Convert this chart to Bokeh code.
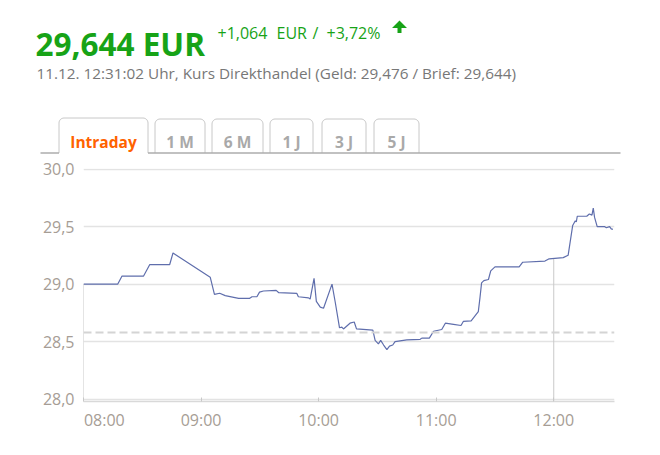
import numpy as np
from bokeh.plotting import figure
from bokeh.layouts import column
from bokeh.models import FixedTicker, Span, Range1d
from bokeh.core.properties import value
from bokeh.embed import file_html
from bokeh.resources import INLINE

# ---------------- data ----------------
times = ["08:00:00", "08:17:30", "08:19:40", "08:30:40", "08:33:50", "08:44:00", "08:45:40",
         "09:04:40", "09:06:50", "09:09:30", "09:12:20", "09:19:10", "09:24:40", "09:26:00",
         "09:28:30", "09:29:50", "09:31:50", "09:38:20", "09:39:40", "09:48:50", "09:49:40",
         "09:54:50", "09:55:40", "09:57:40", "09:58:50", "10:00:50", "10:02:30", "10:06:50",
         "10:08:30", "10:10:40", "10:11:50", "10:12:40", "10:16:00", "10:18:10", "10:19:20",
         "10:27:40", "10:28:50", "10:30:30", "10:31:40", "10:33:10", "10:34:50", "10:36:10",
         "10:37:50", "10:39:00", "10:45:00", "10:51:50", "10:52:40", "10:56:30", "10:58:40",
         "11:02:50", "11:04:40", "11:08:50", "11:12:40", "11:13:50", "11:17:50", "11:21:30",
         "11:22:20", "11:23:10", "11:24:20", "11:26:40", "11:27:50", "11:30:00", "11:42:20",
         "11:44:10", "11:55:30", "11:57:40", "12:04:50", "12:07:20", "12:09:40", "12:11:00",
         "12:11:30", "12:12:00", "12:16:50", "12:18:10", "12:19:30", "12:20:10", "12:20:50",
         "12:22:10", "12:25:50", "12:26:50", "12:28:30", "12:29:20", "12:30:10"]
values = [29.00, 29.00, 29.07, 29.07, 29.17, 29.17, 29.27,
          29.06, 28.91, 28.92, 28.90, 28.875, 28.875, 28.89,
          28.89, 28.93, 28.94, 28.945, 28.925, 28.92, 28.89,
          28.88, 28.87, 29.05, 28.85, 28.80, 28.79, 29.00,
          28.84, 28.62, 28.625, 28.61, 28.66, 28.67, 28.61,
          28.60, 28.51, 28.48, 28.51, 28.47, 28.43, 28.46,
          28.47, 28.50, 28.515, 28.52, 28.53, 28.53, 28.59,
          28.605, 28.66, 28.65, 28.64, 28.675, 28.68, 28.76,
          28.88, 29.01, 29.03, 29.04, 29.115, 29.15, 29.15,
          29.19, 29.20, 29.22, 29.23, 29.25, 29.51, 29.55,
          29.54, 29.59, 29.59, 29.61, 29.60, 29.66, 29.58,
          29.50, 29.50, 29.49, 29.50, 29.48, 29.476]
prev_close = 28.58
marker_times = ["08:00:00", "12:00:00"]
x_tick_times = ["08:00", "09:00", "10:00", "11:00", "12:00"]
x_tick_labels = ["08:00", "09:00", "10:00", "11:00", "12:00"]
y_ticks = [28.0, 28.5, 29.0, 29.5, 30.0]
y_tick_labels = ["28,0", "28,5", "29,0", "29,5", "30,0"]
tab_labels = ["Intraday", "1 M", "6 M", "1 J", "3 J", "5 J"]

price_text = "29,644 EUR"
change_parts = ["+1,064", "EUR", "/", "+3,72%"]
subtitle = "11.12. 12:31:02 Uhr, Kurs Direkthandel (Geld: 29,476 / Brief: 29,644)"


def to_hours(t):
    parts = [int(v) for v in t.split(":")]
    while len(parts) < 3:
        parts.append(0)
    return parts[0] + parts[1] / 60 + parts[2] / 3600


xh = np.array([to_hours(t) for t in times])
yv = np.array(values)
tick_h = [to_hours(t) for t in x_tick_times]

GREEN = "#17a317"
AXIS_TXT = "#a69d95"
FONT = "Open Sans"
W = 644
HEAD_H = 156
TOTAL_H = 439

# ---------------- header figure (pixel coordinates, y downwards) ----------------
h = figure(width=W, height=HEAD_H, output_backend="svg", toolbar_location=None, title=None,
           x_axis_location=None, y_axis_location=None,
           x_range=Range1d(0, W), y_range=Range1d(HEAD_H, 0),
           min_border_left=0, min_border_right=0, min_border_top=0, min_border_bottom=0,
           background_fill_color="white", border_fill_color="white", outline_line_color=None)
h.grid.visible = False

h.text(x=[35], y=[42.7], text=[price_text], text_font=value(FONT), text_font_size="31.5px",
       text_font_style="bold", text_color=GREEN, text_baseline="alphabetic", text_align="left")
h.text(x=[217, 276, 312, 326], y=[32.3] * 4, text=change_parts, text_font=value(FONT),
       text_font_size="16px", text_color=GREEN, text_baseline="alphabetic", text_align="left")
h.patch([391.5, 399, 406.5, 401, 401, 397, 397], [27.5, 20, 27.5, 27.5, 32.5, 32.5, 27.5],
        fill_color=GREEN, line_color=None)
h.text(x=[36], y=[72.7], text=[subtitle], text_font=value(FONT), text_font_size="15.3px",
       text_color="#777777", text_baseline="alphabetic", text_align="left")

# tabs
tab_edges = [(58.5, 147.5), (154.5, 204.5), (211.5, 262.5), (269.5, 312.5), (321.5, 365.5), (373.5, 418.5)]
r = 5.0
ang = np.linspace(0, np.pi / 2, 8)
tab_xs, tab_ys = [], []
for i, (l, rr) in enumerate(tab_edges):
    top = 117.5 if i == 0 else 118.5
    bot = 152.5
    xs = [l] + list(l + r - r * np.cos(ang)) + list(rr - r + r * np.sin(ang)) + [rr]
    ys = [bot] + list(top + r - r * np.sin(ang)) + list(top + r - r * np.cos(ang)) + [bot]
    tab_xs.append(xs)
    tab_ys.append(ys)
h.patches(tab_xs, tab_ys, fill_color="white", line_color=None)
h.multi_line(tab_xs, tab_ys, line_color="#c8c8c8", line_width=1)
h.multi_line([[40, tab_edges[0][0]], [tab_edges[0][1], 620]], [[152.5, 152.5], [152.5, 152.5]],
             line_color="#acacac", line_width=1.5)
tab_cx = [(l + rr) / 2 for l, rr in tab_edges]
h.text(x=tab_cx, y=[141.7] * len(tab_cx), text=tab_labels, text_font=value(FONT),
       text_font_size="15.5px", text_font_style="bold",
       text_color=["#ff6200"] + ["#a9a9a9"] * (len(tab_labels) - 1),
       text_baseline="alphabetic", text_align="center")

# ---------------- chart figure ----------------
p = figure(width=W, height=TOTAL_H - HEAD_H, output_backend="svg", toolbar_location=None, title=None,
           x_range=(to_hours("08:00"), to_hours("12:31")), y_range=(27.979, 30.005),
           min_border_left=83, min_border_right=30, min_border_top=12, min_border_bottom=38,
           background_fill_color="white", border_fill_color="white", outline_line_color=None)

for fig in (h, p):
    try:
        fig.frame_align = False
    except Exception:
        pass

# first label starts at the axis origin instead of being centred on it
x_label_map = {t: lab for t, lab in zip(tick_h, x_tick_labels)}
x_label_map[tick_h[0]] = "\u00a0" * 10 + x_tick_labels[0]

p.xaxis.ticker = FixedTicker(ticks=tick_h)
p.xaxis.major_label_overrides = x_label_map
p.xaxis.axis_line_color = "#d9d9d9"
p.xaxis.axis_line_width = 1.5
p.xaxis.major_tick_in = 4
p.xaxis.major_tick_out = 0
p.xaxis.major_tick_line_color = "#c8c8c8"
p.xaxis.minor_tick_line_color = None
p.xaxis.major_label_standoff = 7
p.xaxis.major_label_text_font = FONT
p.xaxis.major_label_text_font_size = "16px"
p.xaxis.major_label_text_color = AXIS_TXT

p.yaxis.ticker = FixedTicker(ticks=y_ticks)
p.yaxis.major_label_overrides = {t: lab for t, lab in zip(y_ticks, y_tick_labels)}
p.yaxis.axis_line_color = None
p.yaxis.major_tick_line_color = None
p.yaxis.minor_tick_line_color = None
p.yaxis.major_tick_out = 0
p.yaxis.major_tick_in = 0
p.yaxis.major_label_standoff = 9
p.yaxis.major_label_text_font = FONT
p.yaxis.major_label_text_font_size = "16px"
p.yaxis.major_label_text_color = AXIS_TXT

p.xgrid.visible = False
p.ygrid.grid_line_color = "#e3e3e3"
p.ygrid.grid_line_width = 1.5

p.add_layout(Span(location=prev_close, dimension="width", line_color="#d4d4d4",
                  line_width=2, line_dash="8 4"))

mh = [to_hours(t) for t in marker_times]
mv = list(np.interp(mh, xh, yv))
p.segment(x0=mh, y0=mv, x1=mh, y1=[27.979] * len(mh), line_color="#c9c9c9", line_width=1)

p.line(xh, yv, line_color="#5f6eac", line_width=1.2)

layout = column(h, p, spacing=0)
open("out.html", "w").write(file_html(layout, INLINE))
